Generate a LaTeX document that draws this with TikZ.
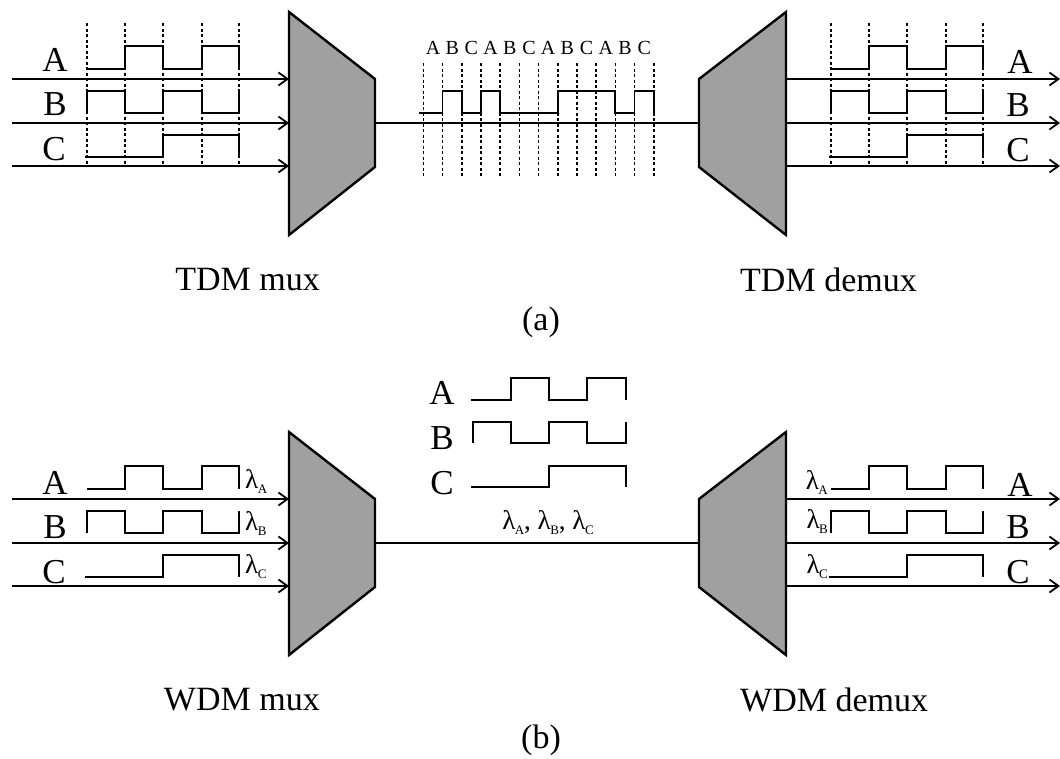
\documentclass[tikz,border=0pt]{standalone}
\usepackage{fontspec}
\setmainfont{Liberation Serif}
\usetikzlibrary{arrows.meta}
\definecolor{muxgray}{RGB}{160,160,160}
\newcommand\lamsub[1]{λ\kern-0.5pt\raisebox{-5pt}{\fontsize{13}{13}\selectfont #1}}
\begin{document}
\begin{tikzpicture}[x=1pt,y=-1pt,
  sig/.style={line width=1.8pt, line join=miter},
  gridl/.style={line width=1.6pt, dash pattern=on 3pt off 2.5pt},
  feed/.style={line width=2pt, -{Straight Barb[length=9pt,width=13pt,line width=1.8pt]}},
  fiber/.style={line width=1.5pt},
  mux/.style={fill=muxgray, draw=black, line width=2.4pt, line join=miter},
  lbl/.style={font=\fontsize{35}{40}\selectfont, inner sep=0pt},
  captxt/.style={font=\fontsize{34}{38}\selectfont, inner sep=0pt},
  slot/.style={font=\fontsize{20}{24}\selectfont, inner sep=0pt},
  lam/.style={font=\fontsize{27}{30}\selectfont, inner sep=0pt}]
\useasboundingbox (0,0) rectangle (1060,758);

% ================= (a) TDM =================
\draw[mux] (289,12) -- (375,79) -- (375,167) -- (289,235) -- cycle;
\draw[mux] (786,12) -- (699,79) -- (699,167) -- (786,235) -- cycle;
\coordinate (tmuxout) at (375,123);
\coordinate (tdmxin) at (699,123);
\foreach \y/\n in {79/a,123/b,166/c}{
  \coordinate (tin\n) at (12,\y);
  \coordinate (tmin\n) at (289,\y);
  \coordinate (tdout\n) at (786,\y);
  \coordinate (tend\n) at (1060,\y);
  \draw[feed] (tin\n) -- (tmin\n);
  \draw[feed] (tdout\n) -- (tend\n);
}
\draw[fiber] (tmuxout) -- (tdmxin);
\foreach \s in {0,744}{
\begin{scope}[xshift=\s pt]
  \foreach \x in {87,125,163,202,239} \draw[gridl] (\x,23) -- (\x,167);
  \draw[sig] (87,69) -- (125,69) -- (125,46) -- (163,46) -- (163,69) -- (202,69) -- (202,46) -- (239,46) -- (239,69);
  \draw[sig] (87,113) -- (87,91) -- (125,91) -- (125,113) -- (163,113) -- (163,91) -- (202,91) -- (202,113) -- (239,113) -- (239,91);
  \draw[sig] (85,157) -- (163,157) -- (163,135) -- (239,135) -- (239,157);
\end{scope}}
\node[lbl] (la) at (55,60) {A};
\node[lbl] (lb) at (55,104) {B};
\node[lbl] (lc) at (54,149) {C};
\node[lbl] (ra) at (1020,62) {A};
\node[lbl] (rb) at (1018,105) {B};
\node[lbl] (rc) at (1018,150) {C};
\foreach \i in {0,...,12}{
  \draw[gridl] ({423.3+19.2*\i},63) -- ({423.3+19.2*\i},177);
}
\foreach \i/\t in {0/A,1/B,2/C,3/A,4/B,5/C,6/A,7/B,8/C,9/A,10/B,11/C}{
  \node[slot] (slot\i) at ({433+19.2*\i},48) {\t};
}
\draw[sig] (419,113) -- (442.5,113) -- (442.5,91) -- (461.7,91) -- (461.7,113) -- (480.9,113) -- (480.9,91) -- (500.1,91) -- (500.1,113)
  -- (557.7,113) -- (557.7,91) -- (615.3,91) -- (615.3,113) -- (634.5,113) -- (634.5,91) -- (653.7,91) -- (653.7,113);
\node[captxt, anchor=east] (tmuxlbl) at (320,280) {TDM mux};
\node[captxt, anchor=west] (tdmxlbl) at (740,280) {TDM demux};
\node[captxt] (alabel) at (541,322) {(a)};

% ================= (b) WDM =================
\draw[mux] (289,432) -- (375,499) -- (375,587) -- (289,655) -- cycle;
\draw[mux] (786,432) -- (699,499) -- (699,587) -- (786,655) -- cycle;
\coordinate (wmuxout) at (375,543);
\coordinate (wdmxin) at (699,543);
\foreach \y/\n in {499/a,543/b,586/c}{
  \coordinate (win\n) at (12,\y);
  \coordinate (wmin\n) at (289,\y);
  \coordinate (wdout\n) at (786,\y);
  \coordinate (wend\n) at (1060,\y);
  \draw[feed] (win\n) -- (wmin\n);
  \draw[feed] (wdout\n) -- (wend\n);
}
\draw[fiber] (wmuxout) -- (wdmxin);
\foreach \s in {0,744}{
\begin{scope}[xshift=\s pt, yshift=-420pt]
  \draw[sig] (87,69) -- (125,69) -- (125,46) -- (163,46) -- (163,69) -- (202,69) -- (202,46) -- (239,46) -- (239,69);
  \draw[sig] (87,113) -- (87,91) -- (125,91) -- (125,113) -- (163,113) -- (163,91) -- (202,91) -- (202,113) -- (239,113) -- (239,91);
  \draw[sig] (85,157) -- (163,157) -- (163,135) -- (239,135) -- (239,157);
\end{scope}}
\node[lbl] (wla) at (55,483) {A};
\node[lbl] (wlb) at (55,527) {B};
\node[lbl] (wlc) at (54,572) {C};
\node[lbl] (wra) at (1020,485) {A};
\node[lbl] (wrb) at (1018,527) {B};
\node[lbl] (wrc) at (1018,572) {C};
\node[lam, anchor=west] (lamla) at (245,481) {\lamsub{A}};
\node[lam, anchor=west] (lamlb) at (245,524) {\lamsub{B}};
\node[lam, anchor=west] (lamlc) at (245,567) {\lamsub{C}};
\node[lam, anchor=east] (lamra) at (828,482) {\lamsub{A}};
\node[lam, anchor=east] (lamrb) at (828,522) {\lamsub{B}};
\node[lam, anchor=east] (lamrc) at (828,567) {\lamsub{C}};
\node[lbl] (ma) at (442,393) {A};
\node[lbl] (mb) at (442,438) {B};
\node[lbl] (mc) at (442,483) {C};
\draw[sig] (471,400) -- (511,400) -- (511,378) -- (549,378) -- (549,400) -- (587,400) -- (587,378) -- (626,378) -- (626,400);
\draw[sig] (473,443) -- (473,422) -- (511,422) -- (511,443) -- (549,443) -- (549,422) -- (587,422) -- (587,443) -- (626,443) -- (626,422);
\draw[sig] (471,487) -- (549,487) -- (549,466) -- (626,466) -- (626,487);
\node[lam] (lamall) at (548,523) {\lamsub{A}, \lamsub{B}, \lamsub{C}};
\node[captxt, anchor=east] (wmuxlbl) at (320,700) {WDM mux};
\node[captxt, anchor=west] (wdmxlbl) at (740,700) {WDM demux};
\node[captxt] (blabel) at (541,740) {(b)};
\end{tikzpicture}
\end{document}
